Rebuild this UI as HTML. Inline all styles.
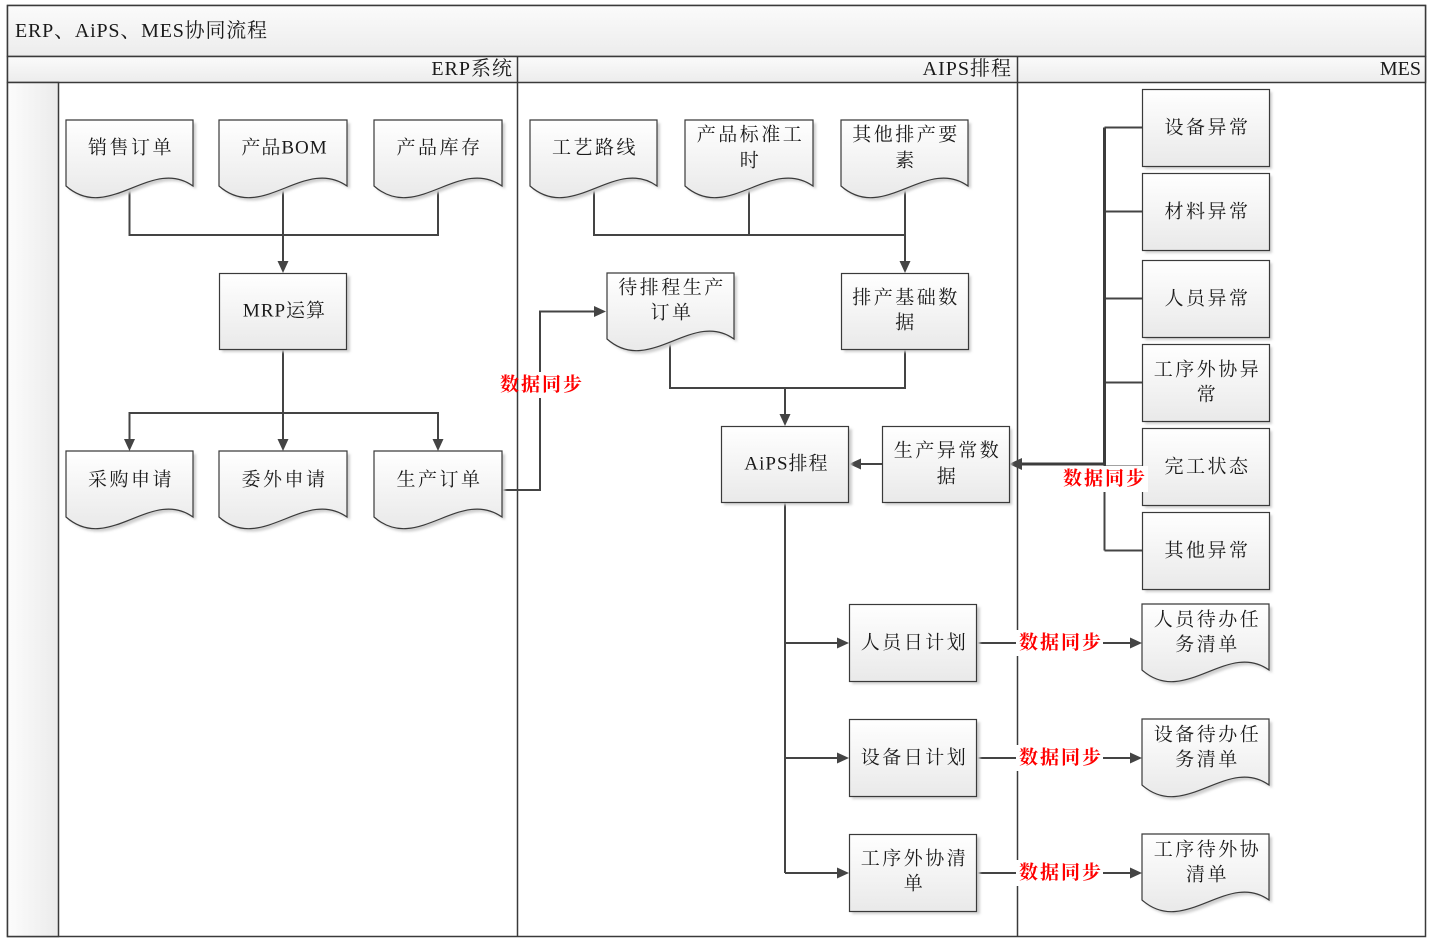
<!DOCTYPE html>
<html><head><meta charset="utf-8">
<style>
html,body{margin:0;padding:0;background:#fff;}
svg{display:block;}
text{font-family:"Liberation Serif","Noto Serif CJK SC",serif;fill:#1a1a1a;}
.t{font-size:19px;letter-spacing:2.5px;}
.r{font-family:"Liberation Serif","Noto Serif CJK SC",serif;font-size:19px;font-weight:bold;fill:#ff0000;letter-spacing:2px;}
.ln{stroke:#444;stroke-width:2;fill:none;}
.hv{stroke:#3c3c3c;stroke-width:3;fill:none;}
.bx{stroke:#3a3a3a;stroke-width:1.2;fill:url(#g);}
.sh{fill:#cfcfcf;filter:url(#b);}
.ah{fill:#444;}
</style></head><body>
<svg width="1432" height="942" viewBox="0 0 1432 942" xmlns="http://www.w3.org/2000/svg">
<defs>
<linearGradient id="g" x1="0" y1="0" x2="0" y2="1"><stop offset="0" stop-color="#ffffff"/><stop offset="1" stop-color="#e9e9e9"/></linearGradient>
<linearGradient id="hg" x1="0" y1="0" x2="0" y2="1"><stop offset="0" stop-color="#fbfbfb"/><stop offset="1" stop-color="#ececec"/></linearGradient>
<linearGradient id="lg" x1="0" y1="0" x2="1" y2="0"><stop offset="0" stop-color="#fcfcfc"/><stop offset="1" stop-color="#ebebeb"/></linearGradient>
<filter id="b" x="-10%" y="-10%" width="120%" height="120%"><feGaussianBlur stdDeviation="1.2"/></filter>
</defs>

<!-- swimlane frame -->
<rect x="7.5" y="5.5" width="1418" height="931" fill="#fff" stroke="#3a3a3a" stroke-width="1.5"/>
<rect x="7.5" y="5.5" width="1418" height="51" fill="url(#hg)" stroke="#3a3a3a" stroke-width="1.5"/>
<rect x="7.5" y="56.5" width="1418" height="26" fill="url(#hg)" stroke="#3a3a3a" stroke-width="1.5"/>
<rect x="7.5" y="82.5" width="51" height="854" fill="url(#lg)" stroke="#3a3a3a" stroke-width="1.5"/>
<line x1="517.5" y1="56.5" x2="517.5" y2="936.5" stroke="#3a3a3a" stroke-width="1.5"/>
<line x1="1017.5" y1="56.5" x2="1017.5" y2="936.5" stroke="#3a3a3a" stroke-width="1.5"/>
<text x="15" y="37" style="font-size:20px;letter-spacing:0.8px;">ERP、AiPS、MES协同流程</text>
<text x="513" y="75" text-anchor="end" style="font-size:20px;letter-spacing:1px;">ERP系统</text>
<text x="1012" y="75" text-anchor="end" style="font-size:20px;letter-spacing:1px;">AIPS排程</text>
<text x="1421" y="75" text-anchor="end" style="font-size:20px;">MES</text>

<!-- connectors -->
<polyline class="ln" points="129.5,186 129.5,235 438,235 438,186"/>
<line class="ln" x1="283" y1="186" x2="283" y2="263"/>
<polygon class="ah" points="283,273 277.5,261 288.5,261"/>
<line class="ln" x1="283" y1="349" x2="283" y2="441"/>
<polyline class="ln" points="129.5,441 129.5,413 438,413 438,441"/>
<polygon class="ah" points="129.5,451 124,439 135,439"/>
<polygon class="ah" points="283,451 277.5,439 288.5,439"/>
<polygon class="ah" points="438,451 432.5,439 443.5,439"/>

<polyline class="ln" points="501,490 540,490 540,311.5 596,311.5"/>
<polygon class="ah" points="606,311.5 594,306 594,317"/>

<polyline class="ln" points="594,186 594,235 905,235"/>
<line class="ln" x1="749" y1="186" x2="749" y2="235"/>
<line class="ln" x1="905" y1="186" x2="905" y2="263"/>
<polygon class="ah" points="905,273 899.5,261 910.5,261"/>
<polyline class="ln" points="670,339 670,388 905,388 905,349"/>
<line class="ln" x1="785" y1="388" x2="785" y2="416"/>
<polygon class="ah" points="785,426 779.5,414 790.5,414"/>

<line class="ln" x1="882" y1="464" x2="859" y2="464"/>
<polygon class="ah" points="849,464 861,458.5 861,469.5"/>

<line class="ln" x1="785" y1="502" x2="785" y2="873"/>
<line class="ln" x1="785" y1="643" x2="839" y2="643"/>
<line class="ln" x1="785" y1="758" x2="839" y2="758"/>
<line class="ln" x1="785" y1="873" x2="839" y2="873"/>
<polygon class="ah" points="849,643 837,637.5 837,648.5"/>
<polygon class="ah" points="849,758 837,752.5 837,763.5"/>
<polygon class="ah" points="849,873 837,867.5 837,878.5"/>

<line class="ln" x1="977" y1="643" x2="1132" y2="643"/>
<line class="ln" x1="977" y1="758" x2="1132" y2="758"/>
<line class="ln" x1="977" y1="873" x2="1132" y2="873"/>
<polygon class="ah" points="1142,643 1130,637.5 1130,648.5"/>
<polygon class="ah" points="1142,758 1130,752.5 1130,763.5"/>
<polygon class="ah" points="1142,873 1130,867.5 1130,878.5"/>

<line class="ln" x1="1104.5" y1="127.5" x2="1104.5" y2="550.5"/>
<line class="ln" x1="1104.5" y1="127.5" x2="1142" y2="127.5"/>
<line class="ln" x1="1104.5" y1="211.5" x2="1142" y2="211.5"/>
<line class="ln" x1="1104.5" y1="298.5" x2="1142" y2="298.5"/>
<line class="ln" x1="1104.5" y1="382.5" x2="1142" y2="382.5"/>
<line class="ln" x1="1104.5" y1="466.5" x2="1142" y2="466.5"/>
<line class="ln" x1="1104.5" y1="550.5" x2="1142" y2="550.5"/>
<polyline class="hv" points="1104.5,127.5 1104.5,464 1021,464"/>
<polygon class="ah" points="1009,464 1022,458 1022,470"/>

<!-- document shapes -->
<g>
<path class="sh" d="M69,123 H196 V189 C154.3,159 111.7,226.5 69,189 Z"/>
<path class="bx" d="M66,120 H193 V186 C151.3,156 108.7,223.5 66,186 Z"/>
<path class="sh" d="M222,123 H350 V189 C307.3,159 264.7,226.5 222,189 Z"/>
<path class="bx" d="M219,120 H347 V186 C304.3,156 261.7,223.5 219,186 Z"/>
<path class="sh" d="M377,123 H505 V189 C462.3,159 419.7,226.5 377,189 Z"/>
<path class="bx" d="M374,120 H502 V186 C459.3,156 416.7,223.5 374,186 Z"/>

<path class="sh" d="M69,454 H196 V520 C154.3,490 111.7,557.5 69,520 Z"/>
<path class="bx" d="M66,451 H193 V517 C151.3,487 108.7,554.5 66,517 Z"/>
<path class="sh" d="M222,454 H350 V520 C307.3,490 264.7,557.5 222,520 Z"/>
<path class="bx" d="M219,451 H347 V517 C304.3,487 261.7,554.5 219,517 Z"/>
<path class="sh" d="M377,454 H505 V520 C462.3,490 419.7,557.5 377,520 Z"/>
<path class="bx" d="M374,451 H502 V517 C459.3,487 416.7,554.5 374,517 Z"/>

<path class="sh" d="M533,123 H660 V189 C618.3,159 575.7,226.5 533,189 Z"/>
<path class="bx" d="M530,120 H657 V186 C615.3,156 572.7,223.5 530,186 Z"/>
<path class="sh" d="M688,123 H816 V189 C773.3,159 730.7,226.5 688,189 Z"/>
<path class="bx" d="M685,120 H813 V186 C770.3,156 727.7,223.5 685,186 Z"/>
<path class="sh" d="M844,123 H971 V189 C929.3,159 886.7,226.5 844,189 Z"/>
<path class="bx" d="M841,120 H968 V186 C926.3,156 883.7,223.5 841,186 Z"/>

<path class="sh" d="M610,276 H737 V342 C695.3,312 652.7,379.5 610,342 Z"/>
<path class="bx" d="M607,273 H734 V339 C692.3,309 649.7,376.5 607,339 Z"/>

<path class="sh" d="M1145,607 H1272 V673 C1230.3,643 1187.7,710.5 1145,673 Z"/>
<path class="bx" d="M1142,604 H1269 V670 C1227.3,640 1184.7,707.5 1142,670 Z"/>
<path class="sh" d="M1145,722 H1272 V788 C1230.3,758 1187.7,825.5 1145,788 Z"/>
<path class="bx" d="M1142,719 H1269 V785 C1227.3,755 1184.7,822.5 1142,785 Z"/>
<path class="sh" d="M1145,837 H1272 V903 C1230.3,873 1187.7,940.5 1145,903 Z"/>
<path class="bx" d="M1142,834 H1269 V900 C1227.3,870 1184.7,937.5 1142,900 Z"/>
</g>

<!-- rectangles -->
<g>
<rect class="sh" x="222" y="276" width="128" height="76"/><rect class="bx" x="219.5" y="273.5" width="127" height="76"/>
<rect class="sh" x="844" y="276" width="127" height="76"/><rect class="bx" x="841.5" y="273.5" width="127" height="76"/>
<rect class="sh" x="724" y="429" width="128" height="76"/><rect class="bx" x="721.5" y="426.5" width="127" height="76"/>
<rect class="sh" x="885" y="429" width="127" height="76"/><rect class="bx" x="882.5" y="426.5" width="127" height="76"/>

<rect class="sh" x="1145" y="92" width="127" height="77"/><rect class="bx" x="1142.5" y="89.5" width="127" height="77"/>
<rect class="sh" x="1145" y="176" width="127" height="77"/><rect class="bx" x="1142.5" y="173.5" width="127" height="77"/>
<rect class="sh" x="1145" y="263" width="127" height="77"/><rect class="bx" x="1142.5" y="260.5" width="127" height="77"/>
<rect class="sh" x="1145" y="347" width="127" height="77"/><rect class="bx" x="1142.5" y="344.5" width="127" height="77"/>
<rect class="sh" x="1145" y="431" width="127" height="77"/><rect class="bx" x="1142.5" y="428.5" width="127" height="77"/>
<rect class="sh" x="1145" y="515" width="127" height="77"/><rect class="bx" x="1142.5" y="512.5" width="127" height="77"/>

<rect class="sh" x="852" y="607" width="128" height="77"/><rect class="bx" x="849.5" y="604.5" width="127" height="77"/>
<rect class="sh" x="852" y="722" width="128" height="77"/><rect class="bx" x="849.5" y="719.5" width="127" height="77"/>
<rect class="sh" x="852" y="837" width="128" height="77"/><rect class="bx" x="849.5" y="834.5" width="127" height="77"/>
</g>

<!-- box texts -->
<g text-anchor="middle" dominant-baseline="central">
<text class="t" x="131" y="148">销售订单</text>
<text class="t" x="284.5" y="148" style="letter-spacing:1px">产品BOM</text>
<text class="t" x="439.5" y="148">产品库存</text>
<text class="t" x="131" y="480">采购申请</text>
<text class="t" x="284.5" y="480">委外申请</text>
<text class="t" x="439.5" y="480">生产订单</text>

<text class="t" x="595" y="148">工艺路线</text>
<text class="t" x="750.5" y="135">产品标准工</text>
<text class="t" x="750.5" y="161">时</text>
<text class="t" x="906" y="135">其他排产要</text>
<text class="t" x="906" y="161">素</text>
<text class="t" x="672" y="288">待排程生产</text>
<text class="t" x="672" y="313">订单</text>

<text class="t" x="284.5" y="311" style="letter-spacing:1px">MRP运算</text>
<text class="t" x="906" y="298">排产基础数</text>
<text class="t" x="906" y="323">据</text>
<text class="t" x="786.5" y="464" style="letter-spacing:1px">AiPS排程</text>
<text class="t" x="947.5" y="451">生产异常数</text>
<text class="t" x="947.5" y="477">据</text>

<text class="t" x="1207.5" y="128">设备异常</text>
<text class="t" x="1207.5" y="212">材料异常</text>
<text class="t" x="1207.5" y="299">人员异常</text>
<text class="t" x="1207.5" y="370">工序外协异</text>
<text class="t" x="1207.5" y="395">常</text>
<text class="t" x="1207.5" y="467">完工状态</text>
<text class="t" x="1207.5" y="551">其他异常</text>

<text class="t" x="914.5" y="643">人员日计划</text>
<text class="t" x="914.5" y="758">设备日计划</text>
<text class="t" x="914.5" y="859">工序外协清</text>
<text class="t" x="914.5" y="884">单</text>

<text class="t" x="1207.5" y="620">人员待办任</text>
<text class="t" x="1207.5" y="645">务清单</text>
<text class="t" x="1207.5" y="735">设备待办任</text>
<text class="t" x="1207.5" y="760">务清单</text>
<text class="t" x="1207.5" y="850">工序待外协</text>
<text class="t" x="1207.5" y="875">清单</text>
</g>

<!-- red labels -->
<rect x="499" y="372" width="84" height="26" fill="#fff"/>
<line x1="517.5" y1="372" x2="517.5" y2="398" stroke="#3a3a3a" stroke-width="1.5"/>
<rect x="1062" y="466" width="86" height="26" fill="#fff"/>
<rect x="1016" y="630" width="87" height="26" fill="#fff"/>
<rect x="1016" y="745" width="87" height="26" fill="#fff"/>
<rect x="1016" y="860" width="87" height="26" fill="#fff"/>
<g text-anchor="middle" dominant-baseline="central">
<text class="r" x="542" y="385">数据同步</text>
<text class="r" x="1105" y="479">数据同步</text>
<text class="r" x="1061" y="643">数据同步</text>
<text class="r" x="1061" y="758">数据同步</text>
<text class="r" x="1061" y="873">数据同步</text>
</g>
</svg>
</body></html>
